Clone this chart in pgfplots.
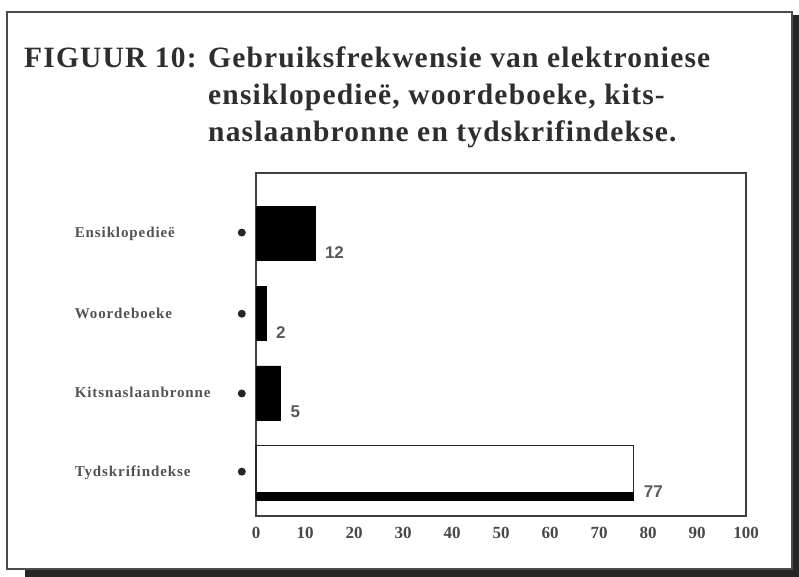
\documentclass[border=0pt]{standalone}
\usepackage{pgfplots}
\pgfplotsset{compat=1.18}
\usepackage{fontspec}
\setmainfont{Liberation Serif}
\setsansfont{Liberation Sans}
\newcommand{\dotlab}[1]{\makebox[163pt][l]{\addfontfeature{LetterSpace=6}#1}\tikz[baseline={(0,-4.5pt)}]\fill[black!85] (0,0) circle (4pt);}
\begin{document}
\begin{tikzpicture}[x=1pt,y=1pt]
\path (0,0) rectangle (799,-577);
% frame with shadow
\fill[black!85] (25,-569) rectangle (799,-577);
\fill[black!85] (792,-15) rectangle (799,-577);
\draw[line width=1.2pt, black!70] (7,-12) rectangle (792,-569);
% title
\begin{scope}[every node/.style={anchor=base west, inner sep=0pt, font=\fontsize{29.5}{35}\selectfont\bfseries\addfontfeature{LetterSpace=4}, text=black!82}]
\node at (24,-68) {FIGUUR 10:};
\node at (208,-68) {Gebruiksfrekwensie van elektroniese};
\node at (208,-105) {ensiklopedieë, woordeboeke, kits-};
\node at (208,-142) {naslaanbronne en tydskrifindekse.};
\end{scope}
\begin{axis}[
  at={(256pt,-516pt)}, anchor=south west,
  scale only axis, width=490pt, height=343pt,
  xmin=0, xmax=100, ymin=-0.546, ymax=3.759,
  xtick={0,10,...,100},
  ytick={0,1,2,3},
  yticklabels={\dotlab{Tydskrifindekse},\dotlab{Kitsnaslaanbronne},\dotlab{Woordeboeke},\dotlab{Ensiklopedieë}},
  major tick length=0pt,
  axis line style={line width=1.2pt, black!75},
  /pgf/number format/assume math mode=true,
  xticklabel style={font=\fontsize{17}{17}\selectfont\bfseries, text=black!72, inner sep=0pt, anchor=north, yshift=-11pt},
  yticklabel style={font=\fontsize{15}{15}\selectfont\bfseries, text=black!68, inner sep=0pt, anchor=east, xshift=-10pt},
  clip=false,
  every node near coord/.append style={anchor=west, xshift=10pt, yshift=-19pt, font=\sffamily\bfseries\fontsize{17}{17}\selectfont, text=black!65, inner sep=0pt},
]
\addplot[xbar, bar width=0.678, bar shift=0pt, fill=black, draw=black, nodes near coords] coordinates {(12,3) (2,2) (5,1)};
\addplot[xbar, bar width=0.678, bar shift=0pt, fill=white, draw=black!85, line width=1.2pt, nodes near coords] coordinates {(77,0)};
\addplot[xbar, bar width=0.10, bar shift=0pt, fill=black, draw=black] coordinates {(77,-0.295)};
\end{axis}
\end{tikzpicture}
\end{document}
